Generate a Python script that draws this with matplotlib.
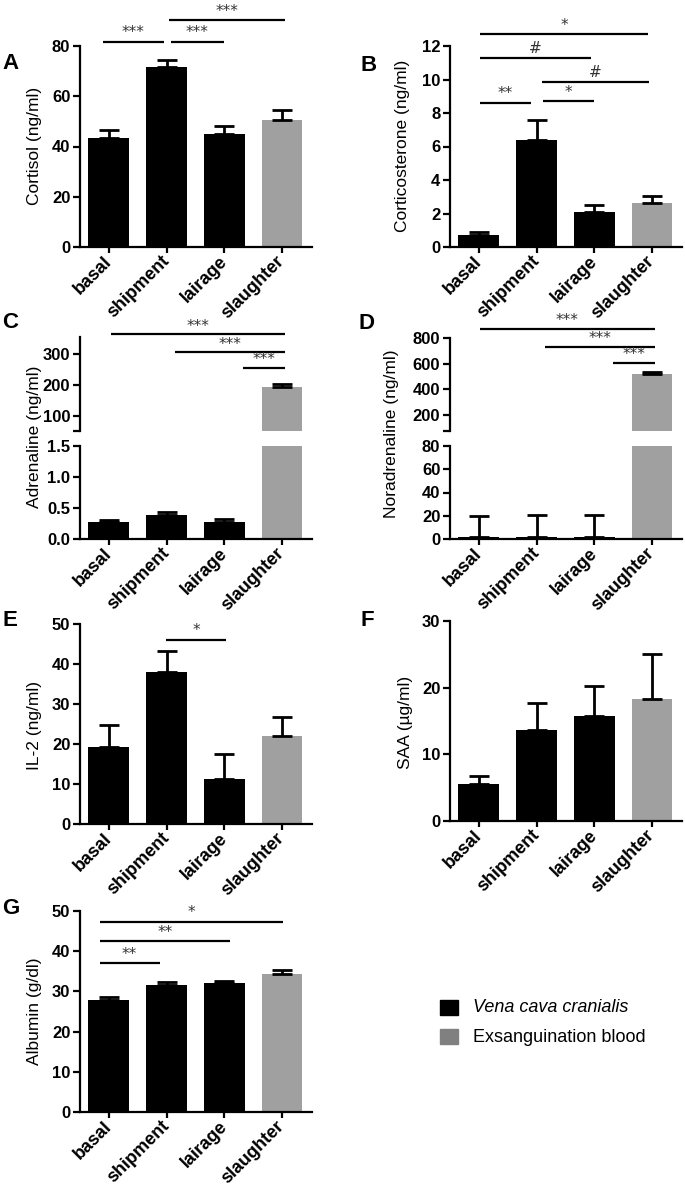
import matplotlib

matplotlib.use('Agg')

import matplotlib.pyplot as plt
from matplotlib.patches import Rectangle
from matplotlib.ticker import FormatStrFormatter

plt.rcParams['font.family'] = ['Liberation Sans', 'DejaVu Sans']

# ---------------------------------------------------------------------------
# data (mean and upper SEM)
# ---------------------------------------------------------------------------
groups = ['basal', 'shipment', 'lairage', 'slaughter']
bar_colors = ['black', 'black', 'black', '#a0a0a0']

cortisol_mean = [43.5, 71.5, 45.0, 50.5]
cortisol_sem = [3.0, 3.0, 3.3, 4.0]

corticosterone_mean = [0.7, 6.4, 2.1, 2.6]
corticosterone_sem = [0.2, 1.2, 0.4, 0.45]

adrenaline_mean = [0.28, 0.39, 0.28, 193.0]
adrenaline_sem = [0.02, 0.05, 0.04, 12.0]

noradrenaline_mean = [1.5, 2.0, 2.0, 522.0]
noradrenaline_sem = [18.5, 19.0, 19.0, 10.0]

il2_mean = [19.2, 38.0, 11.2, 22.0]
il2_sem = [5.5, 5.2, 6.2, 4.7]

saa_mean = [5.5, 13.7, 15.8, 18.3]
saa_sem = [1.3, 4.0, 4.5, 6.7]

albumin_mean = [27.8, 31.7, 32.0, 34.3]
albumin_sem = [0.7, 0.7, 0.7, 1.0]

# significance brackets: (x start, x end in group units, height, label)
sig_a = [(-0.1, 0.95, 81.6, '***'), (1.07, 2.0, 81.6, '***'), (1.05, 3.05, 90.3, '***')]
sig_b = [(0.02, 2.93, 12.7, '*'), (0.02, 1.94, 11.3, '#'), (1.1, 2.95, 9.85, '#'),
         (0.02, 0.9, 8.6, '**'), (1.11, 2.0, 8.7, '*')]
sig_c = [(0.03, 3.05, 364, '***'), (1.14, 3.05, 306, '***'), (2.32, 3.05, 255, '***')]
sig_d = [(0.02, 3.05, 870, '***'), (1.14, 3.05, 730, '***'), (2.33, 3.05, 605, '***')]
sig_e = [(0.99, 2.03, 46, '*')]
sig_g = [(-0.16, 3.02, 47.3, '*'), (-0.16, 2.1, 42.5, '**'), (-0.16, 0.88, 37, '**')]

W, H = 685, 1185
XLIM = (-0.5, 3.52)


def px_rect(left, top, right, bottom):
    return [left / W, 1 - bottom / H, (right - left) / W, (bottom - top) / H]


def style_axis(ax, show_x=True):
    for side in ('top', 'right'):
        ax.spines[side].set_visible(False)
    ax.spines['left'].set_linewidth(1.6)
    ax.spines['bottom'].set_linewidth(1.6)
    ax.tick_params(axis='y', direction='out', length=5, width=1.6,
                   labelsize=12, pad=2)
    for lab in ax.get_yticklabels():
        lab.set_fontweight('bold')
    ax.set_xlim(*XLIM)
    ax.set_xticks(range(len(groups)))
    if show_x:
        ax.tick_params(axis='x', direction='out', length=4.5, width=1.6, pad=4)
        ax.set_xticklabels(groups, rotation=45, ha='right', va='center',
                           rotation_mode='anchor', fontsize=13, fontweight='bold')
    else:
        ax.spines['bottom'].set_visible(False)
        ax.tick_params(axis='x', bottom=False, labelbottom=False)


def draw_bars(ax, mean, sem):
    ax.bar(range(len(groups)), mean, width=0.71, color=bar_colors, zorder=2)
    ax.errorbar(range(len(groups)), mean, yerr=[[0] * len(sem), sem], fmt='none',
                ecolor='black', elinewidth=2.0, capsize=7, capthick=2.0, zorder=3)


def draw_sig(ax, brackets, text_off):
    for x0, x1, y, label in brackets:
        ax.plot([x0, x1], [y, y], color='black', lw=1.6, clip_on=False,
                solid_capstyle='butt')
        ax.text((x0 + x1) / 2, y + text_off, label, ha='center', va='bottom',
                fontsize=11, color='#333333', family='DejaVu Sans', clip_on=False)


def ylabel(fig, x, y, text):
    fig.text(x / W, 1 - y / H, text, rotation=90, ha='center', va='center',
             fontsize=12.5)


def letter(fig, x, y, text):
    fig.text(x / W, 1 - y / H, text, ha='left', va='top', fontsize=16,
             fontweight='bold')


def simple_panel(fig, rect, mean, sem, ylim, ticks, sig=None, sig_off=0.0):
    ax = fig.add_axes(px_rect(*rect))
    draw_bars(ax, mean, sem)
    ax.set_ylim(*ylim)
    ax.set_yticks(ticks)
    style_axis(ax)
    if sig:
        draw_sig(ax, sig, sig_off)
    return ax


def broken_panel(fig, rect_top, rect_bot, mean, sem, ylim_top, ticks_top,
                 ylim_bot, ticks_bot, fmt, sig, sig_off):
    ax_t = fig.add_axes(px_rect(*rect_top))
    ax_b = fig.add_axes(px_rect(*rect_bot))
    for ax in (ax_t, ax_b):
        draw_bars(ax, mean, sem)
    ax_t.set_ylim(*ylim_top)
    ax_t.set_yticks([ylim_top[0]] + ticks_top)
    ax_t.set_yticklabels([''] + [str(t) for t in ticks_top])
    ax_b.set_ylim(*ylim_bot)
    ax_b.set_yticks(ticks_bot)
    ax_b.yaxis.set_major_formatter(FormatStrFormatter(fmt))
    style_axis(ax_t, show_x=False)
    style_axis(ax_b)
    draw_sig(ax_t, sig, sig_off)
    return ax_t, ax_b


fig = plt.figure(figsize=(W / 100, H / 100), dpi=100)

# A - cortisol
simple_panel(fig, (80, 46, 312, 247), cortisol_mean, cortisol_sem,
             (0, 80), [0, 20, 40, 60, 80], sig_a, 0.6)
ylabel(fig, 35, 146, 'Cortisol (ng/ml)')
letter(fig, 2, 53, 'A')

# B - corticosterone
simple_panel(fig, (450, 46, 682, 247), corticosterone_mean, corticosterone_sem,
             (0, 12), [0, 2, 4, 6, 8, 10, 12], sig_b, 0.1)
ylabel(fig, 403, 146, 'Corticosterone (ng/ml)')
letter(fig, 360, 55, 'B')

# C - adrenaline (broken axis)
broken_panel(fig, (80, 337, 312, 431), (80, 446, 312, 539),
             adrenaline_mean, adrenaline_sem, (52, 355), [100, 200, 300],
             (0, 1.5), [0.0, 0.5, 1.0, 1.5], '%.1f', sig_c, 2)
ylabel(fig, 35, 437, 'Adrenaline (ng/ml)')
letter(fig, 2, 312, 'C')

# D - noradrenaline (broken axis)
broken_panel(fig, (450, 338, 682, 431), (450, 446, 682, 539),
             noradrenaline_mean, noradrenaline_sem, (75, 800), [200, 400, 600, 800],
             (0, 80), [0, 20, 40, 60, 80], '%d', sig_d, 6)
ylabel(fig, 392, 434, 'Noradrenaline (ng/ml)')
letter(fig, 358, 313, 'D')

# E - IL-2
simple_panel(fig, (80, 624, 312, 824), il2_mean, il2_sem,
             (0, 50), [0, 10, 20, 30, 40, 50], sig_e, 0.4)
ylabel(fig, 35, 725, 'IL-2 (ng/ml)')
letter(fig, 2, 610, 'E')

# F - SAA
simple_panel(fig, (450, 621, 682, 821), saa_mean, saa_sem,
             (0, 30), [0, 10, 20, 30])
ylabel(fig, 405, 722, 'SAA (µg/ml)')
letter(fig, 360, 610, 'F')

# G - albumin
simple_panel(fig, (80, 911, 312, 1112), albumin_mean, albumin_sem,
             (0, 50), [0, 10, 20, 30, 40, 50], sig_g, 0.4)
ylabel(fig, 35, 1011, 'Albumin (g/dl)')
letter(fig, 2, 898, 'G')

# legend
legend_items = [('black', 'Vena cava cranialis', 'italic'),
                ('#808080', 'Exsanguination blood', 'normal')]
for k, (col, txt, style) in enumerate(legend_items):
    top = 1000 + k * 29
    fig.patches.append(Rectangle((440 / W, 1 - (top + 15) / H), 18 / W, 15 / H,
                                 transform=fig.transFigure, color=col))
    fig.text(473 / W, 1 - (top + 8) / H, txt, ha='left', va='center',
             fontsize=13, fontstyle=style)

fig.savefig('out.png', dpi=100)
plt.close(fig)
